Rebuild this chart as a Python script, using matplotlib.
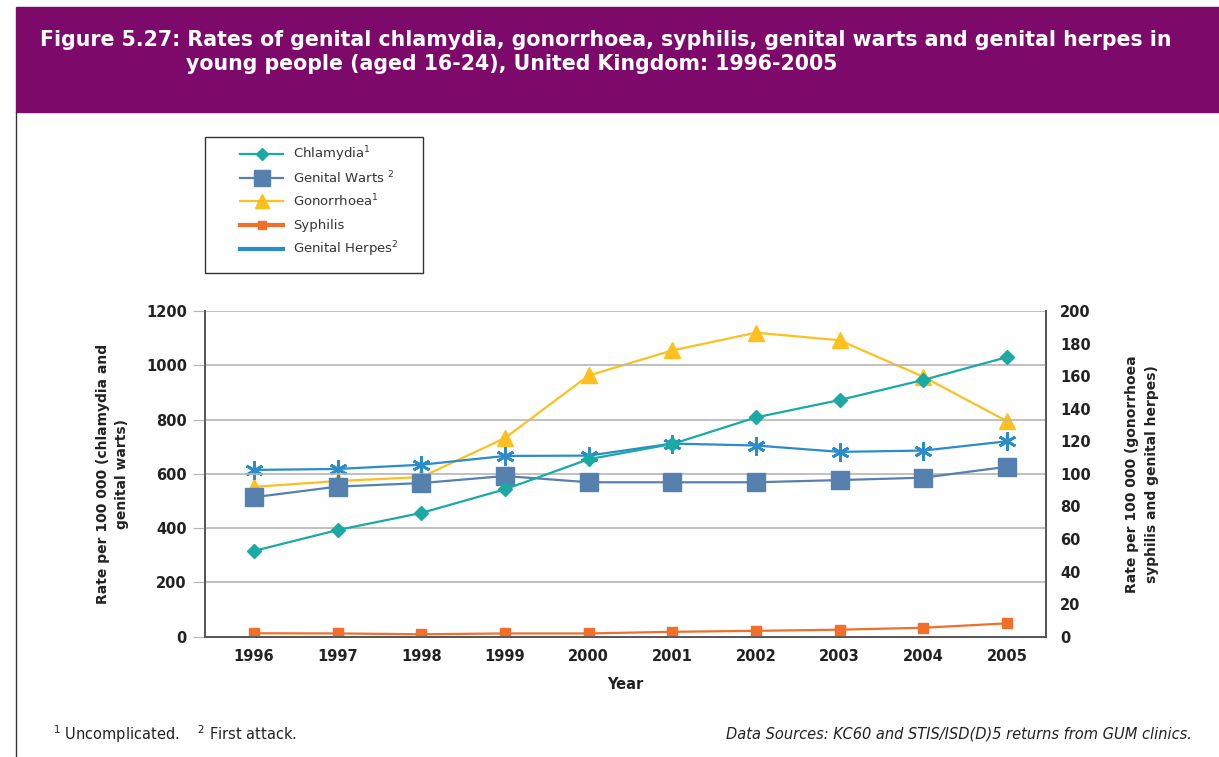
import numpy as np
import matplotlib.pyplot as plt
from matplotlib.patches import Rectangle
from matplotlib.lines import Line2D

years = [1996, 1997, 1998, 1999, 2000, 2001, 2002, 2003, 2004, 2005]

# left axis (rate per 100 000)
chlamydia = [316, 393, 456, 543, 654, 710, 808, 872, 946, 1030]
warts = [514, 553, 566, 592, 569, 569, 569, 577, 586, 626]

# right axis (rate per 100 000)
gonorrhoea = [92, 95.6, 98, 122, 160.4, 175.8, 186.7, 182, 159.6, 132.3]
syphilis = [2.1, 2.0, 1.5, 2.0, 2.0, 3.0, 3.6, 4.3, 5.5, 8.2]
herpes = [102.4, 103, 105.6, 111, 111.2, 118.6, 117.4, 113.5, 114.3, 120]

c_chl = "#1AA9A3"
c_war = "#5680AE"
c_gon = "#FDC01F"
c_syp = "#F26E2B"
c_her = "#2B8CC7"
purple = "#7D0A6B"

W, H = 1219, 757
fig = plt.figure(figsize=(12.19, 7.57), dpi=100)

# header band and frame
fig.patches.append(Rectangle((16 / W, 1 - 112 / H), 1, 105 / H,
                             transform=fig.transFigure, color=purple, zorder=0))
fig.add_artist(Line2D([16 / W, 16 / W], [0, 1 - 112 / H],
                      transform=fig.transFigure, color="#333333", lw=1))
fig.text(40 / W, 1 - 40 / H,
         "Figure 5.27: Rates of genital chlamydia, gonorrhoea, syphilis, genital warts and genital herpes in",
         color="white", fontsize=14.8, fontweight="bold", va="center", ha="left")
fig.text(186 / W, 1 - 64 / H,
         "young people (aged 16-24), United Kingdom: 1996-2005",
         color="white", fontsize=14.8, fontweight="bold", va="center", ha="left")

ax = fig.add_axes([205 / W, (H - 636.7) / H, (1046 - 205) / W, 325.7 / H])
ax2 = ax.twinx()

ax.plot(years, chlamydia, color=c_chl, marker="D", markersize=7, lw=1.6, zorder=5)
ax.plot(years, warts, color=c_war, marker="s", markersize=13, lw=1.6, zorder=4)
ax2.plot(years, gonorrhoea, color=c_gon, marker="^", markersize=12, lw=1.6, zorder=4)
ax2.plot(years, syphilis, color=c_syp, marker="s", markersize=7, lw=1.6, zorder=4)
ax2.plot(years, herpes, color=c_her, marker=(6, 2, 0), markersize=13, mew=2, lw=1.6, zorder=4)

ax.set_xlim(1995.414, 2005.466)
ax.set_ylim(0, 1200)
ax2.set_ylim(0, 200)
ax.set_xticks(years)
ax.set_yticks(range(0, 1201, 200))
ax2.set_yticks(range(0, 201, 20))
ax.grid(axis="y", color="#b5b5b5", lw=1.2)
ax.set_axisbelow(True)
ax.set_zorder(ax2.get_zorder() + 1)
ax.patch.set_visible(False)

for a in (ax, ax2):
    a.spines["top"].set_visible(False)
    for s in ("left", "right", "bottom"):
        a.spines[s].set_color("#555555")
        a.spines[s].set_linewidth(1.3)
ax.tick_params(axis="y", length=9, color="#b5b5b5", pad=4, labelsize=10.5)
ax.tick_params(axis="x", length=0, pad=9, labelsize=10.5)
ax2.tick_params(axis="y", length=0, pad=10, labelsize=10.5)
for lab in ax.get_xticklabels() + ax.get_yticklabels() + ax2.get_yticklabels():
    lab.set_fontweight("bold")
    lab.set_color("#222222")

ax.set_xlabel("Year", fontweight="bold", fontsize=10.5, labelpad=9, color="#222222")
ax.set_ylabel("Rate per 100 000 (chlamydia and\ngenital warts)", fontweight="bold",
              fontsize=10, labelpad=12, color="#222222", linespacing=1.5)
ax2.set_ylabel("Rate per 100 000 (gonorrhoea\nsyphilis and genital herpes)", fontweight="bold",
               fontsize=10, labelpad=49, color="#222222", rotation=90, va="bottom",
               linespacing=1.5)

# legend, laid out by hand so the rows are evenly spaced
fig.patches.append(Rectangle((205 / W, 1 - 273 / H), 218 / W, 136 / H,
                             transform=fig.transFigure, fill=False,
                             edgecolor="#333333", lw=1.0))
leg_labels = ["Chlamydia$^1$", "Genital Warts $^2$", "Gonorrhoea$^1$", "Syphilis", "Genital Herpes$^2$"]
leg_styles = [
    dict(color=c_chl, marker="D", markersize=6, lw=1.6),
    dict(color=c_war, marker="s", markersize=12, lw=1.6),
    dict(color=c_gon, marker="^", markersize=10, lw=1.6),
    dict(color=c_syp, marker="s", markersize=6, lw=3),
    dict(color=c_her, lw=3),
]
for i, (lab, st) in enumerate(zip(leg_labels, leg_styles)):
    yy = 1 - (154 + 23.7 * i) / H
    fig.add_artist(Line2D([240 / W, 283 / W], [yy, yy], transform=fig.transFigure,
                          markevery=[], **{k: v for k, v in st.items()}))
    if "marker" in st:
        fig.add_artist(Line2D([261.5 / W], [yy], transform=fig.transFigure,
                              color=st["color"], marker=st["marker"],
                              markersize=st["markersize"], lw=0))
    fig.text(293 / W, yy, lab, fontsize=9.5, color="#333333", va="center", ha="left")

fig.text(53 / W, 1 - 734 / H, "$^1$ Uncomplicated.    $^2$ First attack.",
         fontsize=10.5, va="center", ha="left", color="#222222")
fig.text(1192 / W, 1 - 734 / H,
         "Data Sources: KC60 and STIS/ISD(D)5 returns from GUM clinics.",
         fontsize=10.5, style="italic", va="center", ha="right", color="#222222")

fig.savefig("out.png", dpi=100)
